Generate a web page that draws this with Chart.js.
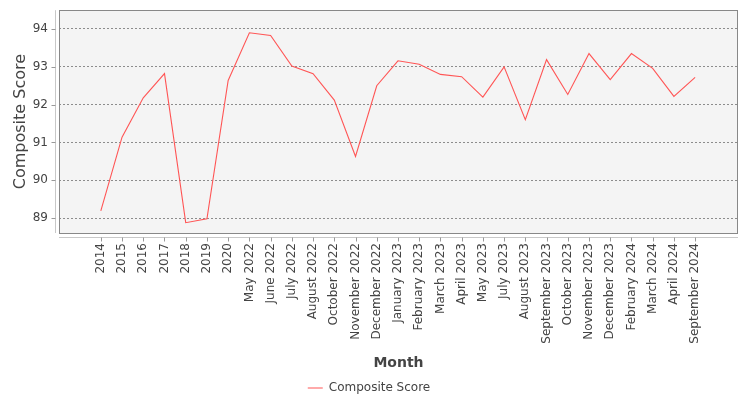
<!DOCTYPE html>
<html>
<head>
<meta charset="utf-8">
<script src="https://cdn.jsdelivr.net/npm/chart.js@4.4.1/dist/chart.umd.min.js"></script>
<style>
  html, body { margin: 0; padding: 0; background: #ffffff; }
  #wrap { width: 750px; height: 400px; }
</style>
</head>
<body>
<div id="wrap"><canvas id="scoreChart" width="750" height="400"></canvas></div>
<script>
// --- Data ---
const months = [
  '2014', '2015', '2016', '2017', '2018', '2019', '2020',
  'May 2022', 'June 2022', 'July 2022', 'August 2022', 'October 2022',
  'November 2022', 'December 2022', 'January 2023', 'February 2023',
  'March 2023', 'April 2023', 'May 2023', 'July 2023', 'August 2023',
  'September 2023', 'October 2023', 'November 2023', 'December 2023',
  'February 2024', 'March 2024', 'April 2024', 'September 2024'
];
const compositeScores = [
  89.19, 91.14, 92.18, 92.82, 88.88, 88.98, 92.64,
  93.90, 93.83, 93.02, 92.82, 92.12,
  90.63, 92.50, 93.16, 93.07,
  92.80, 92.74, 92.20, 93.00, 91.60,
  93.19, 92.27, 93.35, 92.66,
  93.35, 92.96, 92.22, 92.72
];
const scoreTicks = [89, 90, 91, 92, 93, 94];

const FONT = "'DejaVu Sans', sans-serif";
const TEXT = '#444444';

// plot background, border, offset axis lines and tick marks
const plotFrame = {
  id: 'plotFrame',
  beforeDraw(chart) {
    const { ctx, chartArea: a } = chart;
    ctx.save();
    ctx.fillStyle = '#f4f4f4';
    ctx.fillRect(a.left, a.top, a.right - a.left, a.bottom - a.top);
    ctx.restore();
  },
  afterDatasetsDraw(chart) {
    const { ctx, chartArea: a, scales } = chart;
    ctx.save();
    ctx.strokeStyle = '#888888';
    ctx.lineWidth = 1;
    ctx.strokeRect(Math.round(a.left) + 0.5, Math.round(a.top) + 0.5,
      Math.round(a.right - a.left) - 1, Math.round(a.bottom - a.top));

    ctx.strokeStyle = '#c8c8c8';
    ctx.beginPath();
    const ax = Math.round(a.left) - 4 + 0.5;
    ctx.moveTo(ax, a.top);
    ctx.lineTo(ax, a.bottom);
    const ay = Math.round(a.bottom) + 4 + 0.5;
    ctx.moveTo(a.left, ay);
    ctx.lineTo(a.right, ay);
    ctx.stroke();

    ctx.strokeStyle = '#999999';
    ctx.beginPath();
    scales.y.ticks.forEach(t => {
      const y = Math.round(scales.y.getPixelForValue(t.value)) + 0.5;
      ctx.moveTo(ax - 4, y);
      ctx.lineTo(ax, y);
    });
    scales.x.ticks.forEach(t => {
      const x = Math.round(scales.x.getPixelForValue(t.value)) + 0.5;
      ctx.moveTo(x, ay);
      ctx.lineTo(x, ay + 4);
    });
    ctx.stroke();
    ctx.restore();
  }
};

const ctx = document.getElementById('scoreChart').getContext('2d');
new Chart(ctx, {
  type: 'line',
  data: {
    datasets: [{
      label: 'Composite Score',
      data: compositeScores.map((v, i) => ({ x: i, y: v })),
      borderColor: '#ff5555',
      backgroundColor: '#ff5555',
      borderWidth: 1.1,
      pointRadius: 0,
      tension: 0,
      fill: false
    }]
  },
  options: {
    responsive: false,
    animation: false,
    devicePixelRatio: 1,
    layout: { padding: { top: 8, right: 12, bottom: -4, left: 0 } },
    plugins: {
      tooltip: { enabled: false },
      legend: {
        position: 'bottom',
        labels: {
          font: { family: FONT, size: 12 },
          color: TEXT,
          boxWidth: 15,
          boxHeight: 1,
          padding: 10,
          generateLabels(chart) {
            const items = Chart.defaults.plugins.legend.labels.generateLabels(chart);
            items.forEach(it => { it.lineWidth = 0; });
            return items;
          }
        }
      }
    },
    scales: {
      x: {
        type: 'linear',
        min: -1.97,
        max: 30.02,
        afterBuildTicks(scale) {
          scale.ticks = months.map((m, i) => ({ value: i }));
        },
        afterFit(scale) { scale.height = 139; },
        ticks: {
          autoSkip: false,
          minRotation: 90,
          maxRotation: 90,
          padding: 2,
          font: { family: FONT, size: 12 },
          color: TEXT,
          callback: v => months[v] || ''
        },
        grid: { drawOnChartArea: false, tickLength: 8, tickColor: 'transparent' },
        border: { display: false },
        title: {
          display: true,
          text: 'Month',
          font: { family: FONT, size: 14, weight: 'bold' },
          color: TEXT,
          padding: { top: 0, bottom: 0 }
        }
      },
      y: {
        min: 88.607,
        max: 94.497,
        afterBuildTicks(scale) {
          scale.ticks = scoreTicks.map(v => ({ value: v }));
        },
        afterFit(scale) { scale.width = 59; },
        ticks: {
          padding: 3,
          font: { family: FONT, size: 12 },
          color: TEXT
        },
        grid: { color: '#8c8c8c', lineWidth: 1, tickLength: 8, tickColor: 'transparent' },
        border: { display: false, dash: [2, 2] },
        title: {
          display: true,
          text: 'Composite Score',
          font: { family: FONT, size: 16 },
          color: TEXT,
          padding: { top: 11, bottom: 0 }
        }
      }
    }
  },
  plugins: [plotFrame]
});
</script>
</body>
</html>
